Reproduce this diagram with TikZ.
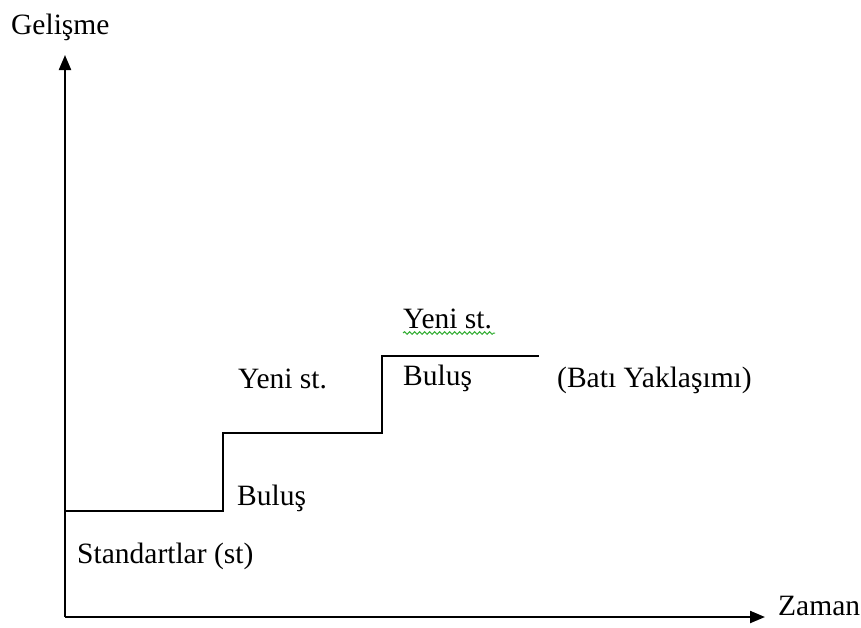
\documentclass[tikz,border=0pt]{standalone}
\usepackage{fontspec}
\setmainfont{Liberation Serif}
\usetikzlibrary{arrows.meta,decorations.pathmorphing}
\begin{document}
\begin{tikzpicture}[x=1pt,y=-1pt,
  axisline/.style={line width=2.2pt,-{Triangle[length=15pt,width=12pt]}},
  stepline/.style={line width=2.2pt,line join=miter},
  lbl/.style={anchor=base west,inner sep=0pt,font=\fontsize{29.5}{35}\selectfont},
  spell/.style={draw=green!60!black!80,line width=1pt,decorate,
    decoration={snake,amplitude=1.3pt,segment length=5pt}}]
  \useasboundingbox (0,0) rectangle (861,627);

  % axes
  \coordinate (O) at (65,617);
  \coordinate (ytip) at (65,55);
  \coordinate (xtip) at (765,617);
  \draw[axisline] (O) -- (ytip);
  \draw[axisline] (O) -- (xtip);

  % staircase of standards
  \coordinate (s0) at (65,511);
  \coordinate (s1) at (223,511);
  \coordinate (s2) at (223,433);
  \coordinate (s3) at (382,433);
  \coordinate (s4) at (382,356);
  \coordinate (s5) at (539,356);
  \draw[stepline] (s0) -- (s1) -- (s2) -- (s3) -- (s4) -- (s5);

  % labels
  \node[lbl] (gel) at (11,34) {Geliş\-me};
  \node[lbl] (zam) at (778,615) {Zaman};
  \node[lbl] (std) at (77,563) {Standartlar (st)};
  \node[lbl] (bul1) at (237,505) {Buluş};
  \node[lbl] (yen1) at (238,388) {Yeni st.};
  \node[lbl] (bul2) at (403,385) {Buluş};
  \node[lbl] (yen2) at (403,328) {Yeni st.};
  \node[lbl] (bati) at (557,387) {(Batı Yaklaşımı)};

  % wavy underline below the upper label
  \draw[spell] ([yshift=-5pt]yen2.base west) -- ([yshift=-5pt,xshift=3pt]yen2.base east);
\end{tikzpicture}
\end{document}
